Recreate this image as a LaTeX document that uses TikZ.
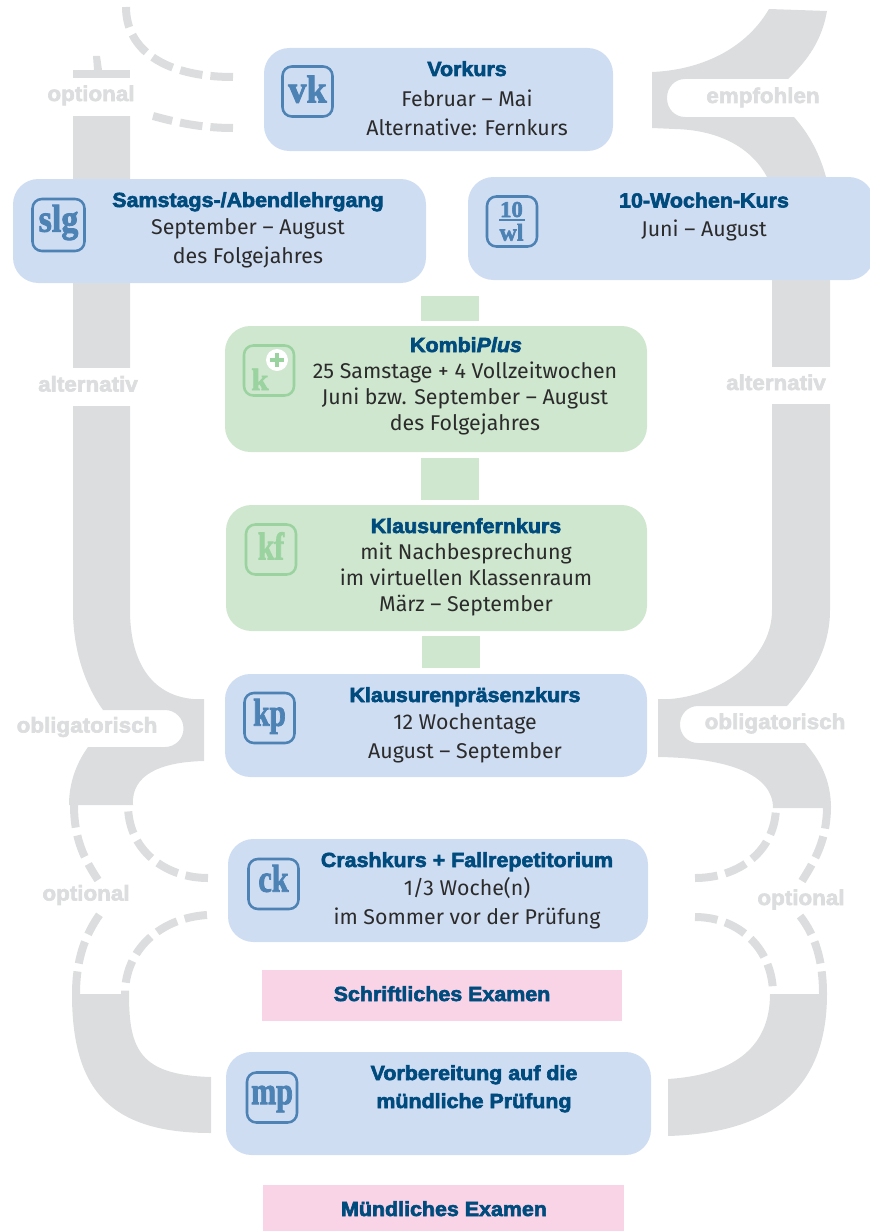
\documentclass[tikz,border=0pt]{standalone}
\usepackage{fontspec}
\setmainfont{Fira Sans}
\newfontfamily\headfont[BoldFeatures={FakeBold=3,FakeStretch=1.05},BoldItalicFeatures={FakeBold=3,FakeStretch=1.05}]{Liberation Sans}
\newfontfamily\iconfont[BoldFeatures={FakeBold=2.4}]{Liberation Serif}
\definecolor{bandgray}{HTML}{DCDDDF}
\definecolor{boxblue}{HTML}{CFDDF3}
\definecolor{boxgreen}{HTML}{CFE7CE}
\definecolor{boxpink}{HTML}{F8D4E6}
\definecolor{titleblue}{HTML}{004B7D}
\definecolor{iconblue}{HTML}{4C82B4}
\definecolor{icongreen}{HTML}{9AD3A0}
\definecolor{bodytext}{HTML}{2B2B2B}
\newcommand{\icontext}[3]{\raisebox{-#1}{\scalebox{#2}[1]{#3}}}
\tikzset{
  kursbox/.style={fill=boxblue, rounded corners=19pt, inner sep=0pt},
  greenbox/.style={kursbox, fill=boxgreen},
  pinkbox/.style={fill=boxpink, inner sep=0pt},
  linkbar/.style={fill=boxgreen, inner sep=0pt},
  iconbox/.style={draw=iconblue, text=iconblue, line width=1.9pt, rounded corners=7pt, inner sep=0pt, text height=0pt, text depth=0pt, font=\iconfont\bfseries\fontsize{29pt}{29pt}\selectfont, minimum size=37.5pt},
  icongreenbox/.style={iconbox, draw=icongreen, text=icongreen},
  kurstext/.style={align=center, text=bodytext, inner sep=0pt, font=\fontsize{16pt}{19.5pt}\selectfont},
  widetext/.style={kurstext, font=\fontsize{16pt}{21.75pt}\selectfont},
  kurstitle/.style={text=titleblue, inner sep=0pt, anchor=base, font=\headfont\bfseries\fontsize{15.3pt}{21pt}\selectfont},
  bandlabel/.style={text=bandgray, inner sep=0pt, anchor=base, font=\headfont\bfseries\fontsize{16pt}{18pt}\selectfont},
  bandmask/.style={fill=white, inner sep=0pt},
  banddash/.style={draw=bandgray, line width=6pt, dash pattern=on 17pt off 6pt},
}
\begin{document}
\begin{tikzpicture}[x=0.75pt,y=-0.75pt]
\useasboundingbox (0,0) rectangle (870,1231);
% left band
\fill[bandgray] (73,116) -- (73,610) .. controls (73,650) and (85,685) .. (103,710) -- (165,710)
  .. controls (175,710) and (183.5,718) .. (183.5,728.5) .. controls (183.5,739) and (175,747) .. (165,747)
  -- (88,747) .. controls (75,765) and (69,785) .. (69,805) -- (133,805)
  .. controls (131,775) and (160,762) .. (204,761) -- (204,699) -- (193,699)
  .. controls (150,695) and (130,660) .. (130,610) -- (130,116) -- cycle;
\fill[bandgray] (73,70) rectangle (130,78);
\fill[bandgray] (93,56) -- (100,56) -- (102,70) -- (94,70) -- cycle;
\fill[bandgray] (72,994) .. controls (72,1090) and (110,1133) .. (211,1133) -- (211,1077)
  .. controls (140,1075) and (129,1050) .. (129,994) -- cycle;
% right band
\fill[bandgray] (652,72) .. controls (700,70) and (745,50) .. (769,9) -- (827,11)
  .. controls (822,40) and (808,60) .. (788,79) -- (685,79)
  .. controls (675,79) and (667,87) .. (667,98) .. controls (667,109) and (675,117) .. (685,117)
  -- (794,117) .. controls (810,135) and (820,155) .. (826,177) -- (830,280) -- (830,610)
  .. controls (830,650) and (810,680) .. (787,706) -- (698,706)
  .. controls (688,706) and (680,714) .. (680,724.5) .. controls (680,735) and (688,743) .. (698,743)
  -- (805,743) .. controls (820,760) and (831,780) .. (831,808) -- (773,808)
  .. controls (773,775) and (730,758) .. (658,757) -- (658,699) -- (670,699)
  .. controls (720,695) and (772,660) .. (772,610) -- (772,280) -- (767,177)
  .. controls (750,145) and (715,130) .. (675,129) -- (652,128) -- cycle;
\fill[bandgray] (827,994) .. controls (827,1090) and (770,1133) .. (668,1136) -- (668,1079)
  .. controls (730,1075) and (770,1050) .. (770,994) -- cycle;
% dashed parts
\draw[banddash] (233,77) .. controls (165,77) and (126,50) .. (126,7);
\draw[banddash] (233,128) .. controls (200,128) and (175,122) .. (153,116);
\draw[banddash] (74,805) .. controls (74,840) and (85,860) .. (98,880);
\draw[banddash] (208,878) .. controls (165,878) and (128,850) .. (128,805);
\draw[banddash] (76,994) .. controls (76,960) and (85,935) .. (100,914);
\draw[banddash] (207,915) .. controls (160,918) and (125,950) .. (125,994);
\draw[banddash] (827,806) .. controls (827,840) and (815,860) .. (802,881);
\draw[banddash] (695,878) .. controls (740,878) and (776,850) .. (776,806);
\draw[banddash] (823,994) .. controls (823,960) and (815,935) .. (800,916);
\draw[banddash] (695,917) .. controls (740,917) and (773,950) .. (773,994);
% labels on the bands
\node[bandmask, minimum width=46pt, minimum height=28pt] (mask1) at (101,387) {};
\node[bandmask, minimum width=46pt, minimum height=28pt] (mask2) at (801,385.5) {};
\node[bandlabel] (lab1) at (91,101) {\textbf{optional}};
\node[bandlabel] (lab2) at (763,103) {\textbf{empfohlen}};
\node[bandlabel] (lab3) at (88,391.5) {\textbf{alternativ}};
\node[bandlabel] (lab4) at (776,390) {\textbf{alternativ}};
\node[bandlabel] (lab5) at (87,732.5) {\textbf{obligatorisch}};
\node[bandlabel] (lab6) at (775,729) {\textbf{obligatorisch}};
\node[bandlabel] (lab7) at (86,900.5) {\textbf{optional}};
\node[bandlabel] (lab8) at (801,905) {\textbf{optional}};
% links
\node[linkbar, minimum width=43.5pt, minimum height=18.75pt] (link1) at (450,308.5) {};
\node[linkbar, minimum width=43.5pt, minimum height=31.5pt] (link2) at (450,478.5) {};
\node[linkbar, minimum width=43.5pt, minimum height=24pt] (link3) at (451,652) {};
% boxes
\node[kursbox, minimum width=261.75pt, minimum height=77.25pt] (vk) at (438.5,99.5) {};
\node[kursbox, minimum width=309.75pt, minimum height=78pt] (slg) at (219.5,231) {};
\node[kursbox, minimum width=304.5pt, minimum height=77.25pt] (wl) at (671,228.5) {};
\node[greenbox, minimum width=316.5pt, minimum height=94.5pt] (kplus) at (436,389) {};
\node[greenbox, minimum width=315.75pt, minimum height=94.5pt] (kf) at (436.5,568) {};
\node[kursbox, minimum width=316.5pt, minimum height=77.25pt] (kp) at (436,725.5) {};
\node[kursbox, minimum width=315pt, minimum height=77.25pt] (ck) at (438,890.5) {};
\node[kursbox, minimum width=318.75pt, minimum height=77.25pt] (mp) at (438.5,1103.5) {};
\node[pinkbox, minimum width=270pt, minimum height=38.25pt] (se) at (442,995.5) {};
\node[pinkbox, minimum width=270.75pt, minimum height=36pt] (me) at (443.5,1209) {};
% icons
\node[iconbox] (vkicon) at (307.5,91.5) {\icontext{8.25pt}{.94}{vk}};
\node[iconbox, minimum size=39pt] (slgicon) at (58.5,225) {\icontext{5pt}{.88}{slg}};
\node[iconbox] (wlicon) at (512,221.5) {};
\node[text=iconblue, inner sep=0pt, anchor=base, font=\iconfont\bfseries\fontsize{17pt}{17pt}\selectfont] (wlnum) at (511.5,217) {10};
\node[text=iconblue, inner sep=0pt, anchor=base, font=\iconfont\bfseries\fontsize{18pt}{18pt}\selectfont] (wlname) at (511.5,240.5) {wl};
\draw[iconblue, line width=1.1pt] (wlicon.center)+(-13,-1.5) -- +(12.5,-1.5);
\node[icongreenbox] (kicon) at (269,370.5) {};
\node[text=icongreen, inner sep=0pt, anchor=base, font=\iconfont\bfseries\fontsize{23pt}{23pt}\selectfont] (kletter) at (260,390) {k};
\node[fill=white, circle, minimum size=16.5pt, inner sep=0pt] (kdot) at (277,360) {};
\draw[icongreen, line width=2.3pt] (kdot.center)+(-7,0) -- +(7,0) (kdot.center)+(0,-7) -- +(0,7);
\node[icongreenbox] (kficon) at (271,549.5) {\icontext{7.5pt}{.76}{kf}};
\node[iconbox] (kpicon) at (269.5,718) {\icontext{5.8pt}{.76}{kp}};
\node[iconbox] (ckicon) at (273.5,884) {\icontext{5.8pt}{.78}{ck}};
\node[iconbox] (mpicon) at (272,1097.5) {\icontext{4.9pt}{.78}{mp}};
% texts
\node[kurstitle] (vktitle) at (467,76) {\textbf{Vorkurs}};
\node[widetext] (vktext) at (467,112.5) {Februar – Mai\\Alternative: Fernkurs};
\node[kurstitle] (slgtitle) at (248,207) {\textbf{Samstags-/Abendlehrgang}};
\node[widetext] (slgtext) at (248,243.5) {September – August\\des Folgejahres};
\node[kurstitle] (wltitle) at (704,207.5) {\textbf{10-Wochen-Kurs}};
\node[kurstext] (wltext) at (704,230) {Juni – August};
\node[kurstitle] (kplustitle) at (466,352) {\textbf{Kombi\textit{Plus}}};
\node[kurstext] (kplustext) at (465,398.5) {25 Samstage + 4 Vollzeitwochen\\Juni bzw. September – August\\des Folgejahres};
\node[kurstitle] (kftitle) at (466,533) {\textbf{Klausurenfernkurs}};
\node[kurstext] (kftext) at (466,579.5) {mit Nachbesprechung\\im virtuellen Klassenraum\\März – September};
\node[kurstitle] (kptitle) at (465,702) {\textbf{Klausurenpräsenzkurs}};
\node[widetext] (kptext) at (465,738) {12 Wochentage\\August – September};
\node[kurstitle] (cktitle) at (467,867) {\textbf{Crashkurs + Fallrepetitorium}};
\node[widetext] (cktext) at (467,903.5) {1/3 Woche(n)\\im Sommer vor der Prüfung};
\node[kurstitle] (mptitle1) at (474,1080) {\textbf{Vorbereitung auf die}};
\node[kurstitle] (mptitle2) at (474,1108) {\textbf{mündliche Prüfung}};
\node[kurstitle] (setitle) at (442,1001) {\textbf{Schriftliches Examen}};
\node[kurstitle] (metitle) at (444,1216) {\textbf{Mündliches Examen}};
\end{tikzpicture}
\end{document}
